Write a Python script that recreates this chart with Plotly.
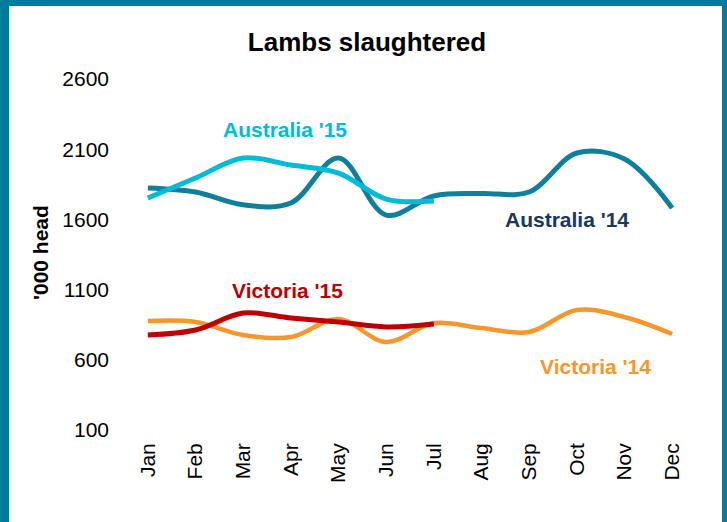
import plotly.graph_objects as go

months = ["Jan", "Feb", "Mar", "Apr", "May", "Jun", "Jul", "Aug", "Sep", "Oct", "Nov", "Dec"]
australia_14 = [1824, 1795, 1704, 1717, 2037, 1631, 1767, 1785, 1795, 2073, 2030, 1681]
australia_15 = [1752, 1895, 2037, 1987, 1930, 1745, 1731]
victoria_14 = [876, 869, 777, 762, 890, 727, 862, 826, 798, 955, 905, 784]
victoria_15 = [777, 812, 933, 898, 869, 834, 855]
y_ticks = [100, 600, 1100, 1600, 2100, 2600]

FONT = "Liberation Sans, Arial, sans-serif"
C_AUS14 = "#0E7F9C"
C_AUS15 = "#00BCD6"
C_VIC14 = "#F7962B"
C_VIC15 = "#C00000"
C_BORDER = "#007C9C"

fig = go.Figure()
series = [
    ("Australia '14", australia_14, C_AUS14, 5),
    ("Australia '15", australia_15, C_AUS15, 5),
    ("Victoria '14", victoria_14, C_VIC14, 4.5),
    ("Victoria '15", victoria_15, C_VIC15, 5),
]
for name, vals, col, w in series:
    fig.add_trace(go.Scatter(
        x=months[:len(vals)], y=vals, mode="lines", name=name,
        line=dict(color=col, width=w, shape="spline", smoothing=1.0),
        hoverinfo="x+y+name",
    ))

labels = [
    ("Australia '15", 2.88, 2237, C_AUS15),
    ("Australia '14", 8.8, 1596, "#17375E"),
    ("Victoria '15", 2.92, 1097, C_VIC15),
    ("Victoria '14", 9.39, 549, C_VIC14),
]
annotations = []
for text, x, y, col in labels:
    annotations.append(dict(
        x=x, y=y, xref="x", yref="y", text="<b>%s</b>" % text, showarrow=False,
        font=dict(family=FONT, size=21, color=col), xanchor="center", yanchor="middle",
    ))

W, H = 727, 522
ml, mr, mt, mb = 124, 31, 79, 92
pw, ph = W - ml - mr, H - mt - mb

annotations.append(dict(
    x=(40 - ml) / pw, y=(H - mb - 253) / ph, xref="paper", yref="paper",
    text="<b>'000 head</b>", textangle=-90, showarrow=False,
    font=dict(family=FONT, size=21, color="#000000"), xanchor="center", yanchor="middle",
))

def px_x(p):
    return (p - ml) / pw

def px_y(p):
    return (H - mb - p) / ph

shapes = [
    dict(type="rect", xref="paper", yref="paper", x0=px_x(0), x1=px_x(9), y0=px_y(H), y1=px_y(0),
         fillcolor=C_BORDER, line=dict(width=0), layer="above"),
    dict(type="rect", xref="paper", yref="paper", x0=px_x(0), x1=px_x(W), y0=px_y(6), y1=px_y(0),
         fillcolor=C_BORDER, line=dict(width=0), layer="above"),
    dict(type="rect", xref="paper", yref="paper", x0=px_x(722), x1=px_x(W), y0=px_y(H), y1=px_y(0),
         fillcolor=C_BORDER, line=dict(width=0), layer="above"),
]

fig.update_layout(
    width=W, height=H,
    margin=dict(l=ml, r=mr, t=mt, b=mb),
    paper_bgcolor="white", plot_bgcolor="white",
    showlegend=False,
    title=dict(text="<b>Lambs slaughtered</b>", x=367 / W, xanchor="center",
               y=1 - 42 / H, yanchor="middle", yref="container",
               font=dict(family=FONT, size=26, color="#000000")),
    xaxis=dict(type="category", categoryorder="array", categoryarray=months,
               range=[-0.5, 11.5], showgrid=False, zeroline=False, showline=False,
               ticks="", tickangle=-90, ticklabelstandoff=8,
               tickfont=dict(family=FONT, size=21, color="#000000")),
    yaxis=dict(range=[100, 2600], tickvals=y_ticks, ticktext=[str(v) for v in y_ticks],
               showgrid=False, zeroline=False, showline=False, ticks="",
               ticklabelstandoff=14,
               tickfont=dict(family=FONT, size=21, color="#000000")),
    annotations=annotations,
    shapes=shapes,
)

fig.write_html("out.html", config={"displayModeBar": False},
               post_script="document.body.style.margin='0';document.body.style.overflow='hidden';")
